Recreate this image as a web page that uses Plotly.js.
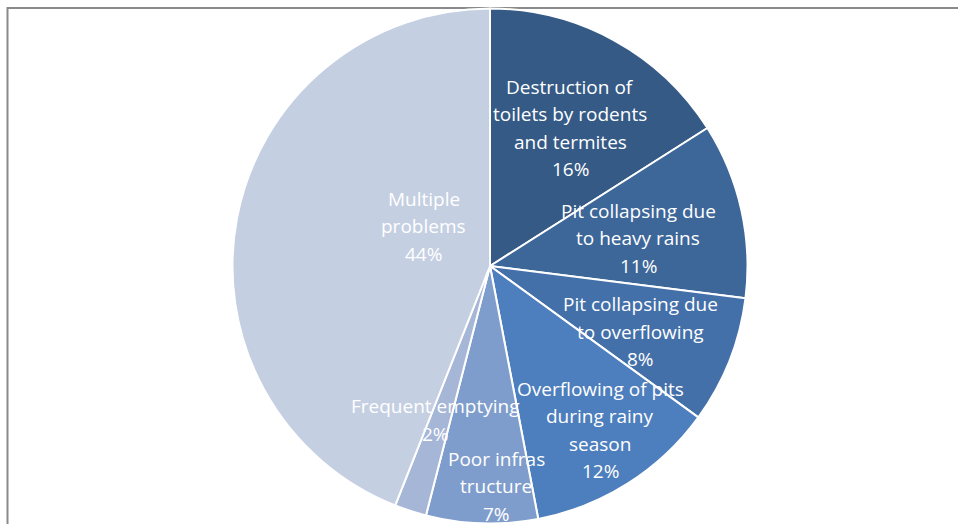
<!DOCTYPE html>
<html>
<head>
<meta charset="utf-8">
<script src="https://cdn.plot.ly/plotly-3.0.1.min.js"></script>
<style>
html,body{margin:0;padding:0;background:#fff;}
#chart{width:958px;height:524px;}
</style>
</head>
<body>
<div id="chart"></div>
<script>
// ---- data ----
var categories = [
  "Destruction of<br>toilets by rodents<br>and termites",
  "Pit collapsing due<br>to heavy rains",
  "Pit collapsing due<br>to overflowing",
  "Overflowing of pits<br>during rainy<br>season",
  "Poor infras<br>tructure",
  "Frequent emptying",
  "Multiple<br>problems"
];
var values = [16, 11, 8, 12, 7, 2, 44];
var percentLabels = ["16%", "11%", "8%", "12%", "7%", "2%", "44%"];

// ---- styling ----
var colors = ["#355a86", "#3d6699", "#4470aa", "#4d7ebd", "#7f9dcc", "#a6b6d6", "#c5cfe2"];
var labelR = [0.62, 0.585, 0.637, 0.767, 0.855, 0.635, 0.30];   // fraction of radius
var labelShift = [1.3, 1.9, 2.1, -1.5, -3.4, 1.6, 20];          // degrees
var W = 958, H = 524;
var cx = 490, cy = 266, R = 257.5;
var FONT = "'Open Sans', Lato, sans-serif";
var FS = 19, LINE = 27.5;

var dom = {
  x: [(cx - R) / W, (cx + R) / W],
  y: [(H - cy - R) / H, (H - cy + R) / H]
};

var total = values.reduce(function(a, b) { return a + b; }, 0);
var annotations = [];
var cum = 0;
for (var i = 0; i < values.length; i++) {
  var mid = (cum + values[i] / 2) / total * 360 + labelShift[i];
  cum += values[i];
  var a = mid * Math.PI / 180;
  var r = labelR[i] * R;
  var px = cx + r * Math.sin(a);
  var py = cy - r * Math.cos(a);
  var lines = categories[i].split("<br>").concat([percentLabels[i]]);
  var n = lines.length;
  for (var j = 0; j < n; j++) {
    annotations.push({
      xref: "paper", yref: "paper",
      x: px / W, y: 1 - py / H,
      yshift: ((n - 1) / 2 - j) * LINE,
      text: lines[j],
      showarrow: false,
      xanchor: "center", yanchor: "middle",
      font: { family: FONT, size: FS, color: "#ffffff" }
    });
  }
}

var trace = {
  type: "pie",
  values: values,
  labels: categories,
  sort: false,
  direction: "clockwise",
  rotation: 0,
  textinfo: "none",
  hoverinfo: "none",
  domain: dom,
  marker: { colors: colors, line: { color: "#ffffff", width: 2 } }
};

var layout = {
  width: W, height: H,
  margin: { l: 0, r: 0, t: 0, b: 0 },
  paper_bgcolor: "#ffffff",
  showlegend: false,
  annotations: annotations,
  shapes: [{
    type: "path", xref: "paper", yref: "paper",
    path: "M " + (7.5 / W) + " 0 L " + (7.5 / W) + " " + (1 - 8 / H) + " L 1 " + (1 - 8 / H),
    line: { color: "#8a8a8a", width: 2 },
    layer: "below"
  }]
};

Plotly.newPlot("chart", [trace], layout, { displayModeBar: false, staticPlot: true });
</script>
</body>
</html>
